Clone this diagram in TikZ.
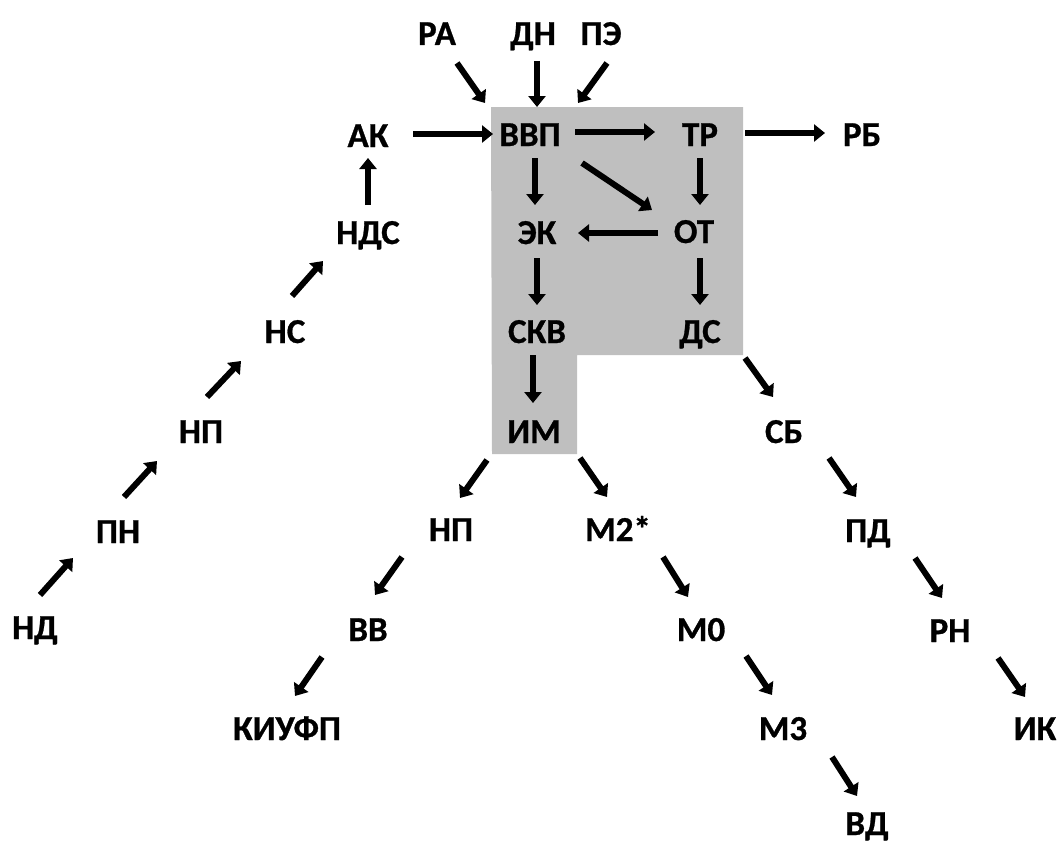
\documentclass[tikz,border=0pt]{standalone}
\usepackage{fontspec}
\setmainfont{Carlito}
\newfontfamily\lblfont{Carlito Bold}[FakeBold=0.8]
\usetikzlibrary{arrows.meta}
\tikzset{
  lbl/.style={font=\lblfont\fontsize{35}{35}\selectfont, inner sep=0pt,
    text height=22pt, text depth=0pt},
  arr/.style={line width=6pt, -{Triangle[length=11pt,width=17pt]}},
}
\begin{document}
\begin{tikzpicture}[x=1pt,y=-1pt]
  \useasboundingbox (0,0) rectangle (1059,843);
  % Shaded block
  \fill[gray!50] (491,107) -- (743,107) -- (743,355) -- (577,355)
    -- (577,454) -- (492,454) -- cycle;

  % Nodes
  \node[lbl] (ra) at (437,34) {РА};
  \node[lbl] (dn) at (533,34) {ДН};
  \node[lbl] (pe) at (601,34) {ПЭ};
  \node[lbl] (ak) at (368,136) {АК};
  \node[lbl] (vvp) at (530,135) {ВВП};
  \node[lbl] (tr) at (700,135) {ТР};
  \node[lbl] (rb) at (862,135) {РБ};
  \node[lbl] (nds) at (368,233) {НДС};
  \node[lbl] (ek) at (537,233) {ЭК};
  \node[lbl] (ot) at (694,232) {ОТ};
  \node[lbl] (ns) at (285,332) {НС};
  \node[lbl] (skv) at (537,332) {СКВ};
  \node[lbl] (ds) at (700,332) {ДС};
  \node[lbl] (np1) at (201,432) {НП};
  \node[lbl] (im) at (534,432) {ИМ};
  \node[lbl] (sb) at (784,432) {СБ};
  \node[lbl] (pn) at (118,532) {ПН};
  \node[lbl] (np2) at (451,530) {НП};
  \node[lbl] (m2) at (618,530) {М2*};
  \node[lbl] (pd) at (868,531) {ПД};
  \node[lbl] (nd) at (35,628) {НД};
  \node[lbl] (vv) at (368,630) {ВВ};
  \node[lbl] (m0) at (701,630) {М0};
  \node[lbl] (rn) at (950,631) {РН};
  \node[lbl] (kiufp) at (287,729) {КИУФП};
  \node[lbl] (m3) at (783,729) {М3};
  \node[lbl] (ik) at (1035,729) {ИК};
  \node[lbl] (vd) at (867,824) {ВД};

  % Arrows into the block
  \draw[arr] ([shift={(20,29)}]ra.center) -- ([shift={(-45,-32)}]vvp.center);
  \draw[arr] ([shift={(4,27)}]dn.center) -- ([shift={(7,-28)}]vvp.center);
  \draw[arr] ([shift={(6,29)}]pe.center) -- ([shift={(48,-32)}]vvp.center);
  \draw[arr] ([shift={(45,-2)}]ak.center) -- ([shift={(-37,-1)}]vvp.center);

  % Arrows inside the block
  \draw[arr] ([shift={(45,-3)}]vvp.center) -- ([shift={(-45,-3)}]tr.center);
  \draw[arr] ([shift={(5,23)}]vvp.center) -- ([shift={(-2,-28)}]ek.center);
  \draw[arr] ([shift={(52,28)}]vvp.center) -- ([shift={(-42,-22)}]ot.center);
  \draw[arr] ([shift={(0,23)}]tr.center) -- ([shift={(6,-27)}]ot.center);
  \draw[arr] ([shift={(-36,1)}]ot.center) -- ([shift={(41,0)}]ek.center);
  \draw[arr] ([shift={(0,25)}]ek.center) -- ([shift={(0,-27)}]skv.center);
  \draw[arr] ([shift={(6,26)}]ot.center) -- ([shift={(0,-27)}]ds.center);
  \draw[arr] ([shift={(-4,23)}]skv.center) -- ([shift={(-1,-29)}]im.center);

  % Arrows out of the block
  \draw[arr] ([shift={(45,-2)}]tr.center) -- ([shift={(-37,-2)}]rb.center);
  \draw[arr] ([shift={(45,26)}]ds.center) -- ([shift={(-11,-35)}]sb.center);
  \draw[arr] ([shift={(-47,28)}]im.center) -- ([shift={(9,-32)}]np2.center);
  \draw[arr] ([shift={(46,26)}]im.center) -- ([shift={(-11,-33)}]m2.center);

  % Left chain
  \draw[arr] ([shift={(5,-33)}]nd.center) -- ([shift={(-45,26)}]pn.center);
  \draw[arr] ([shift={(6,-35)}]pn.center) -- ([shift={(-44,29)}]np1.center);
  \draw[arr] ([shift={(6,-35)}]np1.center) -- ([shift={(-44,29)}]ns.center);
  \draw[arr] ([shift={(7,-36)}]ns.center) -- ([shift={(-45,28)}]nds.center);
  \draw[arr] ([shift={(0,-28)}]nds.center) -- ([shift={(0,22)}]ak.center);

  % Lower chains
  \draw[arr] ([shift={(-49,27)}]np2.center) -- ([shift={(7,-35)}]vv.center);
  \draw[arr] ([shift={(-46,27)}]vv.center) -- ([shift={(8,-33)}]kiufp.center);
  \draw[arr] ([shift={(45,27)}]m2.center) -- ([shift={(-13,-33)}]m0.center);
  \draw[arr] ([shift={(45,26)}]m0.center) -- ([shift={(-11,-34)}]m3.center);
  \draw[arr] ([shift={(49,28)}]m3.center) -- ([shift={(-10,-28)}]vd.center);
  \draw[arr] ([shift={(45,26)}]sb.center) -- ([shift={(-12,-34)}]pd.center);
  \draw[arr] ([shift={(47,27)}]pd.center) -- ([shift={(-8,-33)}]rn.center);
  \draw[arr] ([shift={(48,27)}]rn.center) -- ([shift={(-10,-32)}]ik.center);
\end{tikzpicture}
\end{document}
